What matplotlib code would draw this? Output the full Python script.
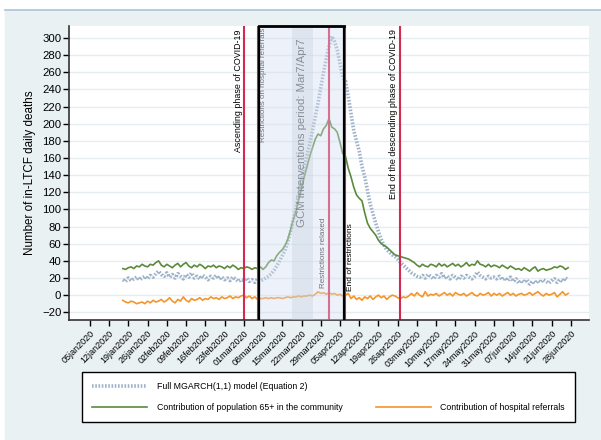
import matplotlib.pyplot as plt
from matplotlib.lines import Line2D
from matplotlib.patches import Rectangle
import pandas as pd

plt.rcParams["font.family"] = ["Liberation Sans", "DejaVu Sans"]

# daily series, 17jan2020 .. 27jun2020
dates = pd.date_range("2020-01-17", "2020-06-27", freq="D")

full_model = [
    # jan 17-31
    18, 16, 20, 17, 19, 21, 18, 20, 22, 19, 23, 21, 25, 28, 24,
    # feb
    22, 26, 21, 24, 20, 25, 22, 19, 24, 21, 26, 20, 22, 19, 23,
    21, 18, 22, 20, 23, 19, 21, 18, 20, 17, 21, 19, 16, 18,
    # mar
    17, 20, 16, 18, 15, 19, 17, 18, 20, 22, 25, 29, 34, 40, 46,
    52, 62, 74, 88, 102, 118, 134, 150, 163, 177, 192, 208, 224, 242, 260, 276,
    # apr
    290, 302, 296, 286, 270, 254, 250, 232, 212, 192, 180, 168, 150, 138, 122,
    106, 95, 84, 74, 65, 58, 53, 50, 47, 45, 42, 38, 35, 32, 29,
    # may
    26, 24, 22, 21, 23, 20, 24, 22, 19, 23, 21, 25, 20, 22, 19,
    23, 21, 18, 22, 20, 23, 21, 19, 22, 27, 23, 21, 19, 22, 20, 21,
    # jun 1-27
    19, 22, 18, 20, 17, 21, 16, 19, 14, 17, 15, 18, 13, 16, 14,
    17, 15, 18, 16, 14, 17, 19, 15, 18, 16, 20, 18,
]

community = [
    31, 30, 32, 33, 31, 34, 33, 36, 34, 33, 36, 35, 38, 40, 35,
    33, 36, 34, 32, 35, 37, 33, 36, 38, 34, 32, 35, 33, 36, 34,
    31, 34, 33, 35, 32, 34, 33, 31, 34, 32, 35, 33, 30, 32,
    31, 33, 32, 30, 32, 31, 33, 30, 33, 38, 41, 40, 46, 50, 53,
    58, 65, 76, 88, 98, 112, 124, 138, 150, 162, 172, 182, 188, 186, 194, 198,
    206, 196, 194, 190, 178, 165, 162, 148, 138, 126, 117, 113, 110, 96, 84,
    78, 74, 70, 64, 60, 58, 56, 53, 50, 47, 46, 45, 44, 43, 42,
    40, 38, 35, 33, 36, 34, 33, 36, 35, 33, 37, 34, 36, 33, 35,
    37, 34, 36, 33, 35, 38, 34, 36, 35, 40, 36, 35, 33, 36, 33, 35,
    34, 32, 35, 33, 31, 34, 32, 30, 31, 29, 32, 30, 28, 31, 33,
    28, 30, 31, 29, 30, 31, 33, 32, 34, 33, 30, 32,
]

hospital = [
    -6, -8, -9, -7, -8, -10, -9, -8, -10, -7, -9, -6, -8, -7, -5,
    -8, -6, -3, -7, -9, -5, -7, -2, -6, -8, -4, -6, -5, -3, -6,
    -4, -5, -2, -4, -3, -5, -2, -4, -3, -1, -4, -2, -3, -1,
    0, -3, -1, -4, -2, -5, -4, -4, -3, -4, -3, -4, -3, -3, -4,
    -3, -2, -3, -2, -2, -1, -2, -1, -1, 0, -1, 1, 4, 2, 3, 1,
    3, 1, 2, 0, 1, -1, 0, 2, -4, -1, -5, -3, -6, -2, -4,
    -1, -5, -2, 0, -3, -1, -5, -2, 0, -1, -3, -4, -2, -3, -1,
    2, -1, 3, 0, -2, 4, -1, 1, 0, 2, -1, 1, 3, 0, 2,
    -1, 3, 1, 0, 2, -1, 1, 3, 0, -1, 2, 0, 1, 3, -1, 2,
    0, 2, -1, 1, 3, 0, 2, -1, 1, 2, 0, 1, 3, 0, 2,
    4, 1, -1, 2, 0, 1, 3, -2, 1, 4, 0, 2,
]

# event dates
ascending = pd.Timestamp("2020-03-01")
referrals = pd.Timestamp("2020-03-06")
gcm_start = pd.Timestamp("2020-03-06 12:00")
gcm_end = pd.Timestamp("2020-04-06 12:00")
band_start = pd.Timestamp("2020-03-18 12:00")
band_end = pd.Timestamp("2020-03-26")
relaxed = pd.Timestamp("2020-04-01")
end_restr = pd.Timestamp("2020-04-07")
descending_end = pd.Timestamp("2020-04-27")

week_ticks = pd.date_range("2020-01-05", "2020-06-28", freq="7D")

BG = "#eaf1f3"
RED = "#d42a52"
BLUE = "#9fb2c9"
GREEN = "#5b8a3a"
ORANGE = "#f5962a"

fig = plt.figure(figsize=(6.01, 4.40), dpi=100, facecolor="white")
fig.patches.append(Rectangle((5 / 601, 0), 1, 429 / 440, transform=fig.transFigure,
                             color=BG, zorder=-2))
fig.add_artist(Line2D([5 / 601, 1], [429.5 / 440] * 2, color="#a8c3d6", lw=1.2,
                      zorder=-1))

ax = fig.add_axes([69 / 601, 120 / 440, 520 / 601, 294 / 440])
ax.set_facecolor("white")

x = dates.to_pydatetime()
ax.plot(x, full_model, color=BLUE, lw=2.6, dashes=(0.45, 0.45),
        solid_capstyle="butt", dash_capstyle="butt", zorder=2)
ax.plot(x, community, color=GREEN, lw=1.2, zorder=2.2)
ax.plot(x, hospital, color=ORANGE, lw=1.2, zorder=2.1)

for d in [ascending, referrals, relaxed, end_restr, descending_end]:
    ax.axvline(d, color=RED, lw=1.5, zorder=2.5)

# intervention period: shaded overlay + black frame
ax.axvspan(gcm_start, gcm_end, color="#d4def0", alpha=0.4, lw=0, zorder=4)
ax.axvspan(band_start, band_end, color="#b8c4d4", alpha=0.25, lw=0, zorder=4.1)
for d in [gcm_start, gcm_end]:
    ax.axvline(d, color="black", lw=1.6, zorder=5)
ax.plot([gcm_start, gcm_end], [1, 1], color="black", lw=2, zorder=5,
        transform=ax.get_xaxis_transform(), clip_on=False)

tr = ax.get_xaxis_transform()
day = pd.Timedelta(days=1)
ax.text(ascending - 0.3 * day, 0.987, "Ascending phase of COVID-19", rotation=90,
        ha="right", va="top", fontsize=6.4, transform=tr, zorder=3)
ax.text(gcm_start + 0.3 * day, 0.993, "Restrictions on hospital referrals", rotation=90,
        ha="left", va="top", fontsize=5.8, color="#2a2a2a", transform=tr, zorder=3)
ax.text(pd.Timestamp("2020-03-22"), 0.636, "GCM interventions period: Mar7/Apr7",
        rotation=90, ha="center", va="center", fontsize=8.2, color="#3a3a3a",
        transform=tr, zorder=3)
ax.text(relaxed - 0.8 * day, 0.108, "Restrictions relaxed", rotation=90,
        ha="right", va="bottom", fontsize=5.8, color="#2a2a2a", transform=tr, zorder=3)
ax.text(end_restr + 0.6 * day, 0.1, "End of restrictions", rotation=90,
        ha="left", va="bottom", fontsize=6.0, transform=tr, zorder=3)
ax.text(descending_end - 0.8 * day, 0.99, "End of the descending phase of COVID-19",
        rotation=90, ha="right", va="top", fontsize=6.4, transform=tr, zorder=3)

ax.set_xlim(pd.Timestamp("2019-12-28 10:00"), pd.Timestamp("2020-07-04 14:00"))
ax.set_ylim(-29, 314)
ax.set_yticks(range(-20, 301, 20))
ax.yaxis.grid(True, color="#e6edf1", lw=1.0, zorder=0.5)
ax.set_axisbelow(True)
ax.set_xticks(week_ticks.to_pydatetime())
ax.set_xticklabels([d.strftime("%d%b%Y").lower() for d in week_ticks],
                   rotation=45, ha="right", rotation_mode="anchor", fontsize=6.5)
ax.tick_params(axis="y", labelsize=8.2, length=4, width=1, pad=1.5)
ax.tick_params(axis="x", length=4.5, width=1, pad=2)
ax.set_ylabel("Number of in-LTCF daily deaths", fontsize=8.4)
ax.yaxis.set_label_coords(-0.063, 0.5)

for side in ["top", "right"]:
    ax.spines[side].set_visible(False)
for side in ["left", "bottom"]:
    ax.spines[side].set_color("#333333")
    ax.spines[side].set_linewidth(1.2)

handles = [
    Line2D([], [], color=BLUE, lw=2.6, dashes=(0.45, 0.45)),
    Line2D([], [], color=GREEN, lw=1.2),
    Line2D([], [], color="none"),
    Line2D([], [], color=ORANGE, lw=1.2),
]
labels = ["Full MGARCH(1,1) model (Equation 2)",
          "Contribution of population 65+ in the community",
          "",
          "Contribution of hospital referrals"]
leg = fig.legend(handles, labels, ncol=2, loc="upper left", mode="expand",
                 bbox_to_anchor=(82 / 601, 64 / 440, 493 / 601, 0.01),
                 borderaxespad=0, fontsize=6.3, handlelength=6.3,
                 handletextpad=1.1, labelspacing=1.4, borderpad=1.15,
                 fancybox=False, frameon=True, framealpha=1)
leg.get_frame().set_edgecolor("black")
leg.get_frame().set_linewidth(1.0)

fig.savefig("out.png", dpi=100, facecolor="white")
